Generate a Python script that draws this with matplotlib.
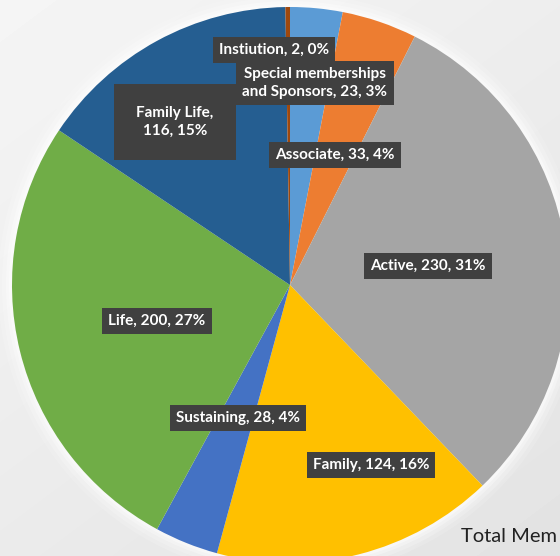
import matplotlib.pyplot as plt
from matplotlib.patches import Circle
import numpy as np

labels = ["Special memberships\nand Sponsors", "Associate", "Active", "Family",
          "Sustaining", "Life", "Family Life", "Instiution"]
counts = [23, 33, 230, 124, 28, 200, 116, 2]
pcts = [3, 4, 31, 16, 4, 27, 15, 0]
colors = ["#5B9BD5", "#ED7D31", "#A5A5A5", "#FFC000",
          "#4472C4", "#70AD47", "#255E91", "#9E480E"]
# label box centres, image pixel coords (x, y from top)
label_pos = [(315, 83), (335, 155), (428, 266), (371, 465),
             (238, 418), (157, 321), (175, 122), (274, 50)]

W, H = 560, 556
cx, cy, r = 290, 285, 278

fig = plt.figure(figsize=(W / 100, H / 100), dpi=100)
fig.patch.set_facecolor("#e8e8e8")
ax = fig.add_axes([0, 0, 1, 1])

# soft light background gradient (lighter top)
yy, xx = np.mgrid[0:H, 0:W]
bg = 0.96 - 0.03 * (xx / W) - 0.04 * (yy / H)
ax.imshow(bg, cmap="gray", vmin=0, vmax=1, extent=(0, W, 0, H), origin="upper", zorder=0)

# white glow around the pie
for k, a in [(14, 0.15), (10, 0.2), (6, 0.3), (3, 0.4)]:
    ax.add_patch(Circle((cx, H - cy), r + k, color="white", alpha=a, lw=0, zorder=1))

ax.pie(counts, colors=colors, startangle=90, counterclock=False,
       center=(cx, H - cy), radius=r, frame=True,
       wedgeprops=dict(linewidth=0, zorder=2))
ax.set_xlim(0, W)
ax.set_ylim(0, H)
ax.set_aspect("equal")
ax.axis("off")

for lab, c, p, (x, y) in zip(labels, counts, pcts, label_pos):
    if lab == "Family Life":
        txt = "Family Life,\n%d, %d%%" % (c, p)
        pad = 1.45
    else:
        txt = "%s, %d, %d%%" % (lab, c, p)
        pad = 0.4
    ax.text(x, H - y, txt, ha="center", va="center", multialignment="center",
            color="white", fontsize=11, fontweight="bold", family="Lato",
            linespacing=1.3, zorder=5,
            bbox=dict(boxstyle="square,pad=%s" % pad, fc="#404040", ec="none"))

ax.text(461, H - 537, "Total Mem", ha="left", va="center",
        fontsize=14.5, color="#222222", family="Lato", zorder=5)

fig.savefig("out.png", dpi=100)
